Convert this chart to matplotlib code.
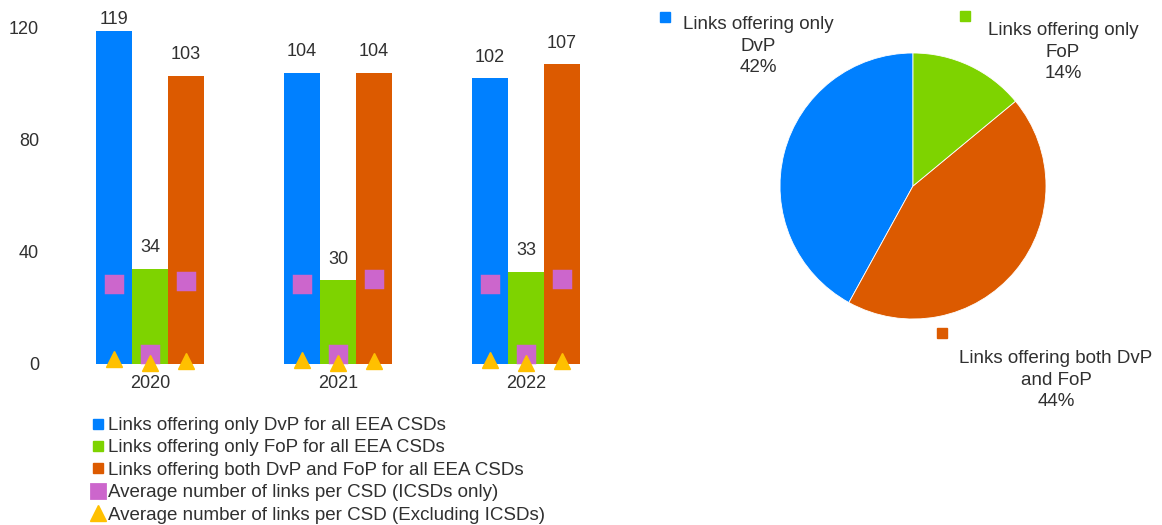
import matplotlib
matplotlib.use("Agg")
import matplotlib.pyplot as plt
from matplotlib.lines import Line2D
import numpy as np

plt.rcParams['font.family'] = ['Liberation Sans', 'DejaVu Sans']

# ---- data ----
years = ["2020", "2021", "2022"]
only_dvp = [119, 104, 102]
only_fop = [34, 30, 33]
both_dvp_fop = [103, 104, 107]

# average number of links per CSD, ICSDs only (per link type)
icsd_dvp = [28.5, 28.5, 28.5]
icsd_fop = [3.5, 3.5, 3.5]
icsd_both = [29.5, 30.3, 30.5]

# average number of links per CSD, excluding ICSDs (per link type)
excl_dvp = [1.8, 1.5, 1.5]
excl_fop = [0.3, 0.3, 0.3]
excl_both = [1.1, 1.1, 1.1]

series_labels = [
    "Links offering only DvP for all EEA CSDs",
    "Links offering only FoP for all EEA CSDs",
    "Links offering both DvP and FoP for all EEA CSDs",
    "Average number of links per CSD (ICSDs only)",
    "Average number of links per CSD (Excluding ICSDs)",
]

pie_labels = ["Links offering only\nDvP", "Links offering both DvP\nand FoP", "Links offering only\nFoP"]
pie_shares = [42, 44, 14]

yticks = [0, 40, 80, 120]

# ---- styling ----
BLUE = "#0080FF"
GREEN = "#7ED300"
ORANGE = "#DC5A00"
PINK = "#CC66CC"
GOLD = "#FFC000"
TXT = "#303030"

W, H = 1162, 525
fig = plt.figure(figsize=(W / 100, H / 100), dpi=100)

# bar chart axes
ax = fig.add_axes([60 / W, (H - 364) / H, 560 / W, 336 / H])
x = np.arange(len(years))
bw = 36 / 188
bar_sets = [(only_dvp, BLUE, -1), (only_fop, GREEN, 0), (both_dvp_fop, ORANGE, 1)]
for vals, col, k in bar_sets:
    ax.bar(x + k * bw, vals, width=bw, color=col, zorder=2)
    for xi, v in zip(x + k * bw, vals):
        ax.text(xi, min(v + 7.5, 123.0), str(v), ha="center", va="center",
                fontsize=13, color=TXT, clip_on=False)

icsd_sets = [(icsd_dvp, -1), (icsd_fop, 0), (icsd_both, 1)]
for vals, k in icsd_sets:
    ax.plot(x + k * bw, vals, linestyle="none", marker="s", markersize=11,
            color=PINK, markeredgecolor=PINK, markeredgewidth=2.5,
            markerfacecolor=PINK, zorder=3, clip_on=False)
excl_sets = [(excl_dvp, -1), (excl_fop, 0), (excl_both, 1)]
for vals, k in excl_sets:
    ax.plot(x + k * bw, vals, linestyle="none", marker="^", markersize=12,
            color=GOLD, zorder=4, clip_on=False)

ax.set_xlim(-90 / 188, 2.5)
ax.set_ylim(0, 120)
ax.set_yticks(yticks)
ax.set_yticklabels([str(t) for t in yticks], fontsize=13, color=TXT)
ax.tick_params(axis="y", length=0, pad=15)
ax.set_xticks(x)
ax.set_xticklabels(years, fontsize=13, color=TXT)
ax.tick_params(axis="x", length=0, pad=8)
for s in ax.spines.values():
    s.set_visible(False)

handles = [
    Line2D([], [], linestyle="none", marker="s", markersize=7, color=BLUE),
    Line2D([], [], linestyle="none", marker="s", markersize=7, color=GREEN),
    Line2D([], [], linestyle="none", marker="s", markersize=7, color=ORANGE),
    Line2D([], [], linestyle="none", marker="s", markersize=10, color=PINK,
           markeredgewidth=2, markeredgecolor=PINK),
    Line2D([], [], linestyle="none", marker="^", markersize=12, color=GOLD),
]
leg = fig.legend(handles, series_labels, loc="upper left",
                 bbox_to_anchor=(92 / W, 1 - 417 / H), frameon=False,
                 fontsize=13.5, handlelength=0.6, handletextpad=0.25,
                 labelspacing=0.28, borderaxespad=0, borderpad=0)
for t in leg.get_texts():
    t.set_color(TXT)

# pie chart axes
R = 133
cx, cy = 913, 186
pax = fig.add_axes([(cx - R) / W, (H - cy - R) / H, 2 * R / W, 2 * R / H])
pie_colors = [BLUE, ORANGE, GREEN]
pax.pie(pie_shares, colors=pie_colors, startangle=90, counterclock=True,
        radius=1, wedgeprops=dict(linewidth=0.6, edgecolor="white"))
pax.set_xlim(-1, 1)
pax.set_ylim(-1, 1)
pax.set_aspect("auto")
pax.axis("off")

label_pos = [(-1.165, 1.05), (1.075, -1.459), (1.128, 1.007)]
square_pos = [(-1.865, 1.27), (0.218, -1.105), (0.391, 1.278)]
for lab, share, col, (lx, ly), (sx, sy) in zip(pie_labels, pie_shares, pie_colors,
                                               label_pos, square_pos):
    pax.text(lx, ly, f"{lab}\n{share}%", ha="center", va="center",
             fontsize=13.5, color=TXT, linespacing=1.35, clip_on=False)
    pax.plot([sx], [sy], marker="s", markersize=7, color=col, clip_on=False)

fig.savefig("out.png", dpi=100)
